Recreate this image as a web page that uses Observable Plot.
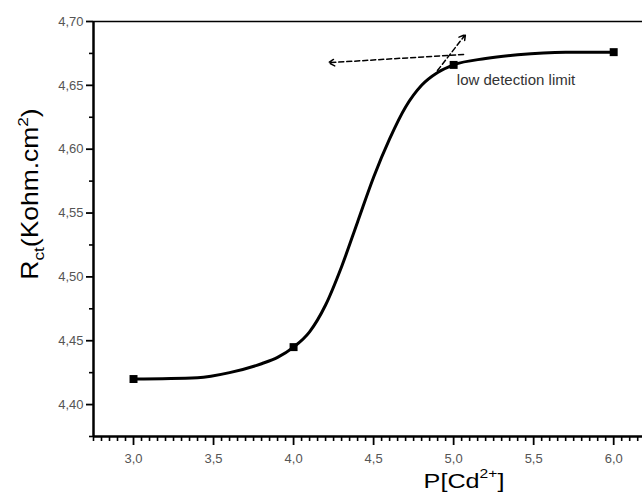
<!DOCTYPE html>
<html>
<head>
<meta charset="utf-8">
<script src="https://cdn.jsdelivr.net/npm/d3@7"></script>
<script src="https://cdn.jsdelivr.net/npm/@observablehq/plot@0.6"></script>
<style>
  html, body { margin: 0; padding: 0; background: white; }
  #chart { width: 642px; height: 496px; }
</style>
</head>
<body>
<div id="chart"></div>
<script>
// Measured data points (P[Cd2+], Rct)
const pCd = [3.0, 4.0, 5.0, 6.0];
const rct = [4.420, 4.445, 4.666, 4.676];

// Fitted curve
const curveX = [3.0, 3.4, 3.6, 3.8, 3.9, 4.0, 4.1, 4.2, 4.3, 4.4, 4.5, 4.6, 4.7, 4.8, 4.9, 5.0, 5.2, 5.4, 5.7, 6.0];
const curveY = [4.420, 4.421, 4.425, 4.432, 4.437, 4.445, 4.457, 4.478, 4.508, 4.543, 4.578, 4.608, 4.633, 4.650, 4.660, 4.666, 4.671, 4.674, 4.676, 4.676];

// Dashed tangent arrows (from -> to)
const arrowX1 = [5.062, 4.899];
const arrowY1 = [4.6742, 4.6616];
const arrowX2 = [4.218, 5.074];
const arrowY2 = [4.6677, 4.6898];

// Annotation
const noteText = ["low detection limit"];
const noteX = [5.02];
const noteY = [4.6538];

// Ticks
const xMajor = [3.0, 3.5, 4.0, 4.5, 5.0, 5.5, 6.0];
const yMajor = [4.40, 4.45, 4.50, 4.55, 4.60, 4.65, 4.70];
const xMinor = d3.range(55, 124).map(i => i * 0.05).filter(v => !xMajor.some(m => Math.abs(m - v) < 1e-6));
const yMinor = [4.375, 4.425, 4.475, 4.525, 4.575, 4.625, 4.675];

const points = pCd.map((x, i) => ({x, y: rct[i]}));
const curve = curveX.map((x, i) => ({x, y: curveY[i]}));
const arrows = arrowX1.map((x1, i) => ({x1, y1: arrowY1[i], x2: arrowX2[i], y2: arrowY2[i]}));
const notes = noteText.map((t, i) => ({t, x: noteX[i], y: noteY[i]}));

const comma = (d, n) => d.toFixed(n).replace(".", ",");

const chart = Plot.plot({
  width: 642,
  height: 496,
  marginLeft: 93,
  marginRight: 0,
  marginTop: 21,
  marginBottom: 60,
  x: {domain: [2.75, 6.18]},
  y: {domain: [4.375, 4.70]},
  style: {fontFamily: "'Liberation Sans', Arial, sans-serif", fontSize: "13px", background: "white", color: "black", overflow: "visible"},
  marks: [
    Plot.axisX(xMinor, {tickSize: 5, strokeWidth: 1.6, text: null, label: null}),
    Plot.axisX(xMajor, {tickSize: 9, strokeWidth: 1.8, tickPadding: 8, tickFormat: d => comma(d, 1), fill: "#555", label: null}),
    Plot.axisY(yMinor, {tickSize: 4, strokeWidth: 1.6, text: null, label: null}),
    Plot.axisY(yMajor, {tickSize: 7, strokeWidth: 1.8, tickPadding: 3, tickFormat: d => comma(d, 2), fill: "#555", label: null}),
    Plot.ruleX([2.75], {strokeWidth: 2.5}),
    Plot.ruleY([4.375], {strokeWidth: 2.5}),
    Plot.ruleY([4.70], {strokeWidth: 1.5}),
    Plot.line(curve, {x: "x", y: "y", curve: "monotone-x", strokeWidth: 3, stroke: "black"}),
    Plot.dot(points, {x: "x", y: "y", symbol: "square", r: 4.5, fill: "black", stroke: null}),
    Plot.arrow(arrows, {x1: "x1", y1: "y1", x2: "x2", y2: "y2", stroke: "black", strokeWidth: 1.5, strokeDasharray: "5,3", headLength: 7}),
    Plot.text(notes, {x: "x", y: "y", text: "t", textAnchor: "start", fontSize: 15, fill: "#333"})
  ]
});

const svg = d3.select(chart);
// Y axis label
const yl = svg.append("text")
  .attr("transform", "translate(38,194) rotate(-90) scale(1.15,1)")
  .attr("text-anchor", "middle")
  .attr("font-family", "'Liberation Sans', Arial, sans-serif")
  .attr("font-size", 23)
  .attr("fill", "black");
yl.append("tspan").text("R");
yl.append("tspan").attr("font-size", 15).attr("dy", 6).text("ct");
yl.append("tspan").attr("dy", -6).text("(Kohm.cm");
yl.append("tspan").attr("font-size", 15).attr("dy", -10).text("2");
yl.append("tspan").attr("dy", 10).text(")");

// X axis label
const xl = svg.append("text")
  .attr("transform", "translate(464,488) scale(1.2,1)")
  .attr("text-anchor", "middle")
  .attr("font-family", "'Liberation Sans', Arial, sans-serif")
  .attr("font-size", 21)
  .attr("fill", "black");
xl.append("tspan").text("P[Cd");
xl.append("tspan").attr("font-size", 13).attr("dy", -10).text("2+");
xl.append("tspan").attr("dy", 10).text("]");

document.getElementById("chart").appendChild(chart);
</script>
</body>
</html>
